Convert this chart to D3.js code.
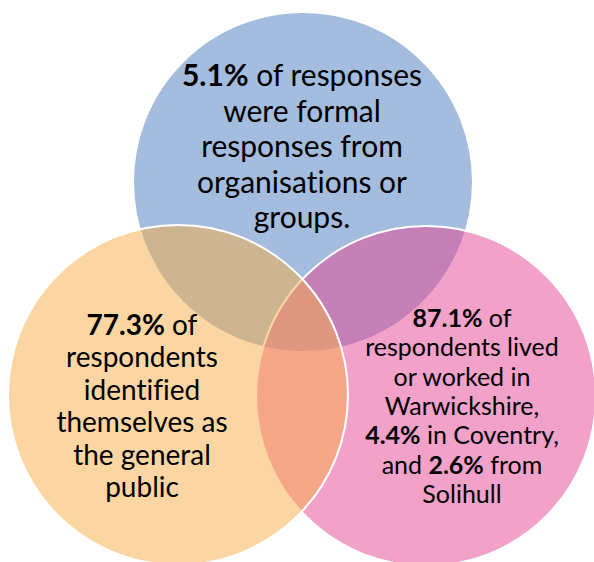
<!DOCTYPE html>
<html>
<head>
<meta charset="utf-8">
<script src="https://cdn.jsdelivr.net/npm/d3@7"></script>
<style>
  html, body { margin: 0; padding: 0; background: #fff; }
  svg { display: block; }
  .label { font-variant-ligatures: none; font-feature-settings: "liga" 0, "clig" 0; }
</style>
</head>
<body>
<div id="venn"></div>
<script>
'use strict'
/* global d3 */

// Sets and their headline figures
const sets = ['Organisations or groups', 'General public', 'Warwickshire']
const shares = [5.1, 77.3, 87.1]
const coventryShare = 4.4
const solihullShare = 2.6

// label text, one array of lines per set (true marks the bold figure)
const fmt = d => d3.format('.1f')(d) + '%'
const labelLines = [
  [[[fmt(shares[0]), true], [' of responses', false]],
   [['were formal', false]],
   [['responses from', false]],
   [['organisations or', false]],
   [['groups.', false]]],
  [[[fmt(shares[1]), true], [' of', false]],
   [['respondents', false]],
   [['identified', false]],
   [['themselves as', false]],
   [['the general', false]],
   [['public', false]]],
  [[[fmt(shares[2]), true], [' of', false]],
   [['respondents lived', false]],
   [['or worked in', false]],
   [['Warwickshire,', false]],
   [[fmt(coventryShare), true], [' in Coventry,', false]],
   [['and ', false], [fmt(solihullShare), true], [' from', false]],
   [['Solihull', false]]]
]

// Canvas
const width = 594,
  height = 562,
  r = 170

// layout: circle centres and label blocks (index matches sets)
const layout = [
  {cx: 303, cy: 182, color: '#4979bb', tx: 302, ty: 86, size: 30, lh: 35.5},
  {cx: 178, cy: 395, color: '#f7ad47', tx: 142, ty: 335, size: 28, lh: 32.4},
  {cx: 426, cy: 396, color: '#e54393', tx: 462, ty: 327, size: 25, lh: 29.3}
]
const drawOrder = [0, 2, 1]

let svg = d3.select('#venn')
  .append('svg')
  .attr('width', width)
  .attr('height', height)

svg.append('g')
  .selectAll('circle')
  .data(drawOrder)
  .enter()
  .append('circle')
  .attr('cx', i => layout[i].cx)
  .attr('cy', i => layout[i].cy)
  .attr('r', r)
  .attr('fill', i => layout[i].color)
  .attr('fill-opacity', 0.5)
  .attr('stroke', '#fff')
  .attr('stroke-width', 2)

// labels
sets.forEach((name, i) => {
  const l = layout[i]
  const text = svg.append('text')
    .attr('class', 'label')
    .attr('text-anchor', 'middle')
    .attr('font-family', 'Lato, "Open Sans", sans-serif')
    .attr('font-size', l.size)
    .attr('fill', '#000')
  labelLines[i].forEach((line, j) => {
    const row = text.append('tspan')
      .attr('x', l.tx)
      .attr('y', l.ty + j * l.lh)
    line.forEach(seg => {
      row.append('tspan')
        .attr('font-weight', seg[1] ? 'bold' : 'normal')
        .text(seg[0])
    })
  })
})
</script>
</body>
</html>
